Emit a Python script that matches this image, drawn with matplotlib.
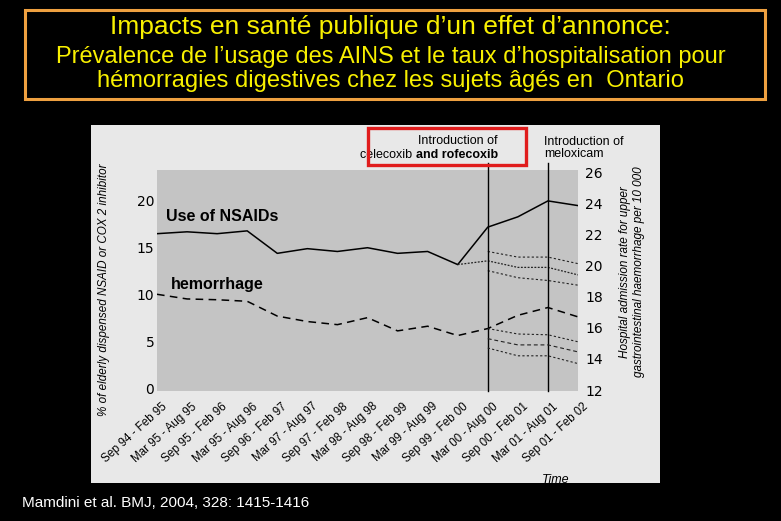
import matplotlib.pyplot as plt
from matplotlib.patches import Rectangle
import matplotlib.transforms as mtransforms

W, H = 781, 521

# periodes (axe des x)
periodes = ['Sep 94 - Feb 95', 'Mar 95 - Aug 95', 'Sep 95 - Feb 96', 'Mar 95 - Aug 96',
            'Sep 96 - Feb 97', 'Mar 97 - Aug 97', 'Sep 97 - Feb 98', 'Mar 98 - Aug 98',
            'Sep 98 - Feb 99', 'Mar 99 - Aug 99', 'Sep 99 - Feb 00', 'Mar 00 - Aug 00',
            'Sep 00 - Feb 01', 'Mar 01 - Aug 01', 'Sep 01 - Feb 02']

# usage des AINS (% , axe gauche)
ains = [16.5, 16.7, 16.5, 16.8, 14.4, 14.9, 14.6, 15.0, 14.4, 14.6, 13.2, 17.2, 18.3, 20.0, 19.5]
ains_prev = [13.2, 13.6, 12.9, 12.9, 12.1]      # Sep 99 -> Sep 01
ains_haut = [14.6, 14.0, 14.0, 13.3]            # Mar 00 -> Sep 01
ains_bas = [12.55, 11.8, 11.5, 11.0]

# hospitalisations pour 10 000 (axe droit)
hemo = [18.15, 17.85, 17.8, 17.7, 16.75, 16.4, 16.2, 16.65, 15.8, 16.1, 15.5, 15.95, 16.8, 17.3, 16.7]
hemo_haut = [15.95, 15.6, 15.55, 15.1]
hemo_prev = [15.3, 14.9, 14.9, 14.45]
hemo_bas = [14.7, 14.2, 14.2, 13.7]

ticks_g = [0, 5, 10, 15, 20]
ticks_d = [12, 14, 16, 18, 20, 22, 24, 26]

arial = ['Liberation Sans', 'DejaVu Sans']

def fx(px):
    return px / W

def fy(py):
    return 1 - py / H

fig = plt.figure(figsize=(W / 100, H / 100), dpi=100, facecolor='black')

# cadre du titre
fig.patches.append(Rectangle((fx(25), fy(99)), fx(740), 89 / H, transform=fig.transFigure,
                             fill=False, edgecolor='#eea040', linewidth=2.2))
fig.text(0.5, fy(27), "Impacts en santé publique d’un effet d’annonce:", ha='center', va='center',
         color='#f8f000', fontsize=19, family=arial)
fig.text(0.5, fy(57), "Prévalence de l’usage des AINS et le taux d’hospitalisation pour",
         ha='center', va='center', color='#f8f000', fontsize=17, family=arial)
fig.text(0.5, fy(81), "hémorragies digestives chez les sujets âgés en  Ontario",
         ha='center', va='center', color='#f8f000', fontsize=17, family=arial)

# page scannee
fig.patches.append(Rectangle((fx(91), fy(483)), fx(569), 358 / H, transform=fig.transFigure,
                             facecolor='#e8e8e8', edgecolor='none', zorder=-5))

ax = fig.add_axes([fx(157), fy(391), fx(421), 221 / H])
ax.set_facecolor('#c4c4c4')
x = list(range(len(periodes)))
ax.plot(x, ains, color='black', lw=1.1)
ax.plot(x[10:], ains_prev, color='#222222', lw=0.9, dashes=(1.5, 1.2))
ax.plot(x[11:], ains_haut, color='#222222', lw=0.8, dashes=(2, 2))
ax.plot(x[11:], ains_bas, color='#222222', lw=0.8, dashes=(2, 2))
ax.set_xlim(0, 14)
ax.set_ylim(-0.3, 23.3)
ax.set_yticks(ticks_g)
ax.set_xticks(x)
ax.set_xticklabels([])
ax.tick_params(axis='x', length=0, pad=0)
ax.tick_params(axis='y', length=0, pad=2, labelsize=10)
for s in ax.spines.values():
    s.set_visible(False)

# etiquettes de l'axe des x (inclinees)
trans_x = mtransforms.blended_transform_factory(ax.transData, ax.transAxes)
off = mtransforms.ScaledTranslation(0.085, -0.14, fig.dpi_scale_trans)
for i, lab in zip(x, periodes):
    ax.text(i, 0, lab, transform=trans_x + off, rotation=42, ha='right', va='center',
            rotation_mode='anchor', fontsize=8.3, family=arial, clip_on=False)

ax2 = ax.twinx()
ax2.plot(x, hemo, color='black', lw=1.1, dashes=(5, 3.5))
ax2.plot(x[11:], hemo_haut, color='#222222', lw=0.8, dashes=(2, 2))
ax2.plot(x[11:], hemo_prev, color='#222222', lw=0.8, dashes=(3.5, 2.5))
ax2.plot(x[11:], hemo_bas, color='#222222', lw=0.8, dashes=(2, 2))
ax2.set_ylim(11.94, 26.13)
ax2.set_yticks(ticks_d)
ax2.tick_params(axis='y', length=0, pad=5, labelsize=10)
for s in ax2.spines.values():
    s.set_visible(False)

# introductions
for xi in (11, 13):
    ax.axvline(xi, ymin=0, ymax=1.03, color='black', lw=1.0, clip_on=False)

ax.text(0.3, 18.3, 'Use of NSAIDs', fontsize=11.5, fontweight='bold', family=arial, va='center')
ax.text(0.45, 11.1, 'hemorrhage', fontsize=11.5, fontweight='bold', family=arial, va='center')

fig.patches.append(Rectangle((fx(368), fy(165)), fx(158), 37 / H, transform=fig.transFigure,
                             fill=False, edgecolor='#e01c1c', linewidth=2.4))
fig.text(fx(498), fy(141), 'Introduction of', ha='right', va='center', fontsize=9, family=arial)
t_bold = fig.text(fx(498), fy(155), 'and rofecoxib', ha='right', va='center', fontsize=9,
                  fontweight='bold', family=arial)
ax.annotate('celecoxib ', xy=(0, 0.5), xycoords=t_bold, ha='right', va='center',
            fontsize=9, family=arial, annotation_clip=False)
fig.text(fx(544), fy(148), 'Introduction of\nmeloxicam', ha='left', va='center', fontsize=9,
         family=arial, linespacing=1.1)

fig.text(fx(104), fy(290), '% of elderly dispensed NSAID or COX 2 inhibitor', rotation=90,
         ha='center', va='center', fontsize=8.4, style='italic', family=arial)
fig.text(fx(632), fy(272), 'Hospital admission rate for upper\ngastrointestinal haemorrhage per 10 000',
         rotation=90, ha='center', va='center', fontsize=8.5, style='italic', family=arial,
         multialignment='center', linespacing=1.3)
fig.text(fx(556), fy(480), 'Time', ha='center', va='center', fontsize=9, style='italic',
         family=arial, zorder=-1)

fig.text(fx(22), fy(503), 'Mamdini et al. BMJ, 2004, 328: 1415-1416', ha='left', va='center',
         color='white', fontsize=11, family=arial)

fig.savefig('out.png', dpi=100, facecolor='black')
